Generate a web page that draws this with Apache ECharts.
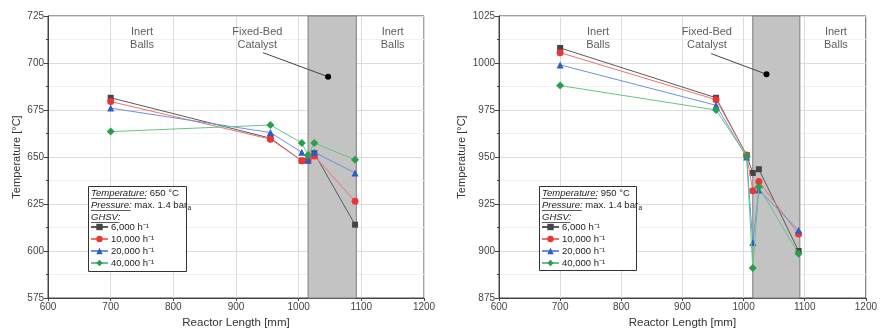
<!DOCTYPE html>
<html><head><meta charset="utf-8">
<script src="https://cdn.jsdelivr.net/npm/echarts@6/dist/echarts.min.js"></script>
<style>html,body{margin:0;padding:0;background:#fff}#c{width:880px;height:334px}</style>
</head><body><div id="c"></div>
<script>
// ---- data ----
const positions = [700, 955, 1005, 1015, 1025, 1090];
const seriesNames = ['6,000 h\u207B\u00B9', '10,000 h\u207B\u00B9', '20,000 h\u207B\u00B9', '40,000 h\u207B\u00B9'];
const left6000  = [681.5, 660, 648, 648, 652, 614];
const left10000 = [679.5, 659.5, 648, 648.5, 650.5, 626.5];
const left20000 = [676, 663, 652.5, 648.5, 652.5, 641.5];
const left40000 = [663.5, 667, 657.5, 651, 657.5, 648.5];
const right6000  = [1008, 981.5, 951, 941.5, 943.5, 900];
const right10000 = [1005.5, 980.5, 951, 932, 937, 909];
const right20000 = [999, 977.5, 950, 904.5, 932.5, 911];
const right40000 = [988, 975, 950.5, 891, 934, 898.5];
const xTicks = [600, 700, 800, 900, 1000, 1100, 1200];
const leftYTicks = [575, 600, 625, 650, 675, 700, 725];
const rightYTicks = [875, 900, 925, 950, 975, 1000, 1025];
const catalystBand = [1015, 1092];
const leftConditions = ['650 \u00B0C', 'max. 1.4 bar'];
const rightConditions = ['950 \u00B0C', 'max. 1.4 bar'];

// ---- styles ----
const styles = [
  {color: '#454545', line: '#5a5a5a', symbol: 'rect', size: 6},
  {color: '#ee3535', line: '#f07070', symbol: 'circle', size: 7},
  {color: '#2c5cc6', line: '#6c92dc', symbol: 'triangle', size: 7},
  {color: '#27a04c', line: '#66c488', symbol: 'diamond', size: 8}
];
const FONT = 'Liberation Sans, Arial, sans-serif';
const plain = v => String(v);

function mkAxes(gi, ymin, ymax) {
  const x = {
    type: 'value', gridIndex: gi, min: xTicks[0], max: xTicks[xTicks.length-1], interval: 100,
    name: 'Reactor Length [mm]', nameLocation: 'middle', nameGap: 19,
    nameTextStyle: {fontSize: 11.5, color: '#333', fontFamily: FONT},
    axisLine: {show: true, lineStyle: {color: '#444'}},
    axisTick: {show: true, length: 3, lineStyle: {color: '#444'}},
    axisLabel: {fontSize: 10, color: '#444', margin: 4, fontFamily: FONT, formatter: plain},
    splitLine: {show: true, lineStyle: {color: '#dcdcdc'}}
  };
  const y = {
    type: 'value', gridIndex: gi, min: ymin, max: ymax, interval: 25,
    name: 'Temperature [\u00B0C]', nameLocation: 'middle', nameGap: gi === 0 ? 26 : 32,
    nameTextStyle: {fontSize: 11, color: '#333', fontFamily: FONT},
    axisLine: {show: true, lineStyle: {color: '#444'}},
    axisTick: {show: true, length: 4, lineStyle: {color: '#444'}},
    minorTick: {show: true, splitNumber: 2, length: 2, lineStyle: {color: '#444'}},
    minorSplitLine: {show: true, lineStyle: {color: '#f1f1f1'}},
    axisLabel: {fontSize: 10, color: '#444', margin: 4, fontFamily: FONT, formatter: plain},
    splitLine: {show: true, lineStyle: {color: '#dcdcdc'}}
  };
  return {x, y};
}
const a0 = mkAxes(0, leftYTicks[0], leftYTicks[leftYTicks.length-1]);
const a1 = mkAxes(1, rightYTicks[0], rightYTicks[rightYTicks.length-1]);

function dataSeries(gi, arrs) {
  return arrs.map((vals, i) => ({
    type: 'line', name: seriesNames[i], xAxisIndex: gi, yAxisIndex: gi,
    data: positions.map((p, k) => [p, vals[k]]),
    symbol: styles[i].symbol, symbolSize: styles[i].size, showSymbol: true,
    itemStyle: {color: styles[i].color},
    lineStyle: {color: styles[i].line, width: 1},
    z: 5 + i, animation: false
  }));
}
function bandSeries(gi) {
  return {
    type: 'line', xAxisIndex: gi, yAxisIndex: gi, data: [], z: 1, silent: true,
    markArea: {silent: true, itemStyle: {color: '#c3c3c3', borderColor: '#7e7e7e', borderWidth: 1},
      data: [[{xAxis: catalystBand[0]}, {xAxis: catalystBand[1]}]]}
  };
}
function labelSeries(gi, pts) {
  return {
    type: 'scatter', xAxisIndex: gi, yAxisIndex: gi, symbolSize: 0, silent: true, z: 3,
    data: pts.map(p => ({value: [p[0], p[1]], name: p[2]})),
    label: {show: true, position: 'inside', formatter: p => p.name, fontSize: 11, lineHeight: 13,
      color: '#333', fontFamily: FONT}
  };
}
function pointerSeries(gi, from, to) {
  return {
    type: 'line', xAxisIndex: gi, yAxisIndex: gi, data: [from, to], z: 4, silent: true,
    symbol: 'circle', showSymbol: true,
    symbolSize: (v, p) => p.dataIndex === 1 ? 6 : 0,
    itemStyle: {color: '#000'}, lineStyle: {color: '#444', width: 1}
  };
}

function measure(txt, font) {
  const c = document.createElement('canvas').getContext('2d');
  c.font = font; return c.measureText(txt).width;
}
function legendBox(x0, y0, w, h, cond) {
  const els = [];
  els.push({type: 'rect', shape: {x: x0 + 0.5, y: y0 + 0.5, width: w, height: h},
    style: {fill: '#fff', stroke: '#333', lineWidth: 1}, z: 20});
  const fs = 9.5;
  const rows = [
    ['Temperature:', ' ' + cond[0], false],
    ['Pressure:', ' ' + cond[1], true],
    ['GHSV:', '', false]
  ];
  rows.forEach((r, i) => {
    const ty = y0 + 7 + i * 12;
    const wItal = measure(r[0], 'italic ' + fs + 'px ' + FONT);
    const wRest = measure(r[1], fs + 'px ' + FONT);
    els.push({type: 'text', x: x0 + 3, y: ty, z: 21,
      style: {text: r[0], font: 'italic ' + fs + 'px ' + FONT, fill: '#222', verticalAlign: 'middle'}});
    els.push({type: 'line', shape: {x1: x0 + 3, y1: ty + 5.5, x2: x0 + 3 + wItal - 1, y2: ty + 5.5}, z: 21,
      style: {stroke: '#333', lineWidth: 0.8}});
    if (r[1]) {
      els.push({type: 'text', x: x0 + 3 + wItal, y: ty, z: 21,
        style: {text: r[1], font: fs + 'px ' + FONT, fill: '#222', verticalAlign: 'middle'}});
    }
    if (r[2]) {
      els.push({type: 'text', x: x0 + 3 + wItal + wRest + 0.5, y: ty + 3, z: 21,
        style: {text: 'a', font: '6.5px ' + FONT, fill: '#222', verticalAlign: 'middle'}});
    }
  });
  return els;
}
function mkLegend(left) {
  return {
    data: seriesNames, orient: 'vertical', left: left, top: 221, itemWidth: 17, itemHeight: 8,
    itemGap: 0, selectedMode: false, z: 22,
    textStyle: {fontSize: 9.5, color: '#222', lineHeight: 12, fontFamily: FONT, padding: [0, 0, 0, -2]},
    padding: 0
  };
}

const option = {
  animation: false,
  textStyle: {fontFamily: FONT},
  grid: [
    {left: 48, right: 456, top: 16, bottom: 35, show: true, borderColor: '#444', borderWidth: 1},
    {left: 499, right: 11, top: 16, bottom: 36, show: true, borderColor: '#444', borderWidth: 1}
  ],
  xAxis: [a0.x, a1.x],
  yAxis: [a0.y, a1.y],
  legend: [mkLegend(90), mkLegend(541)],
  graphic: legendBox(88, 186, 98, 85, leftConditions).concat(legendBox(539, 186, 97, 84, rightConditions)),
  series: [
    bandSeries(0), bandSeries(1),
    labelSeries(0, [[750, 713, 'Inert\nBalls'], [934, 713, 'Fixed-Bed\nCatalyst'], [1150, 713, 'Inert\nBalls']]),
    labelSeries(1, [[762, 1013, 'Inert\nBalls'], [940, 1013, 'Fixed-Bed\nCatalyst'], [1151, 1013, 'Inert\nBalls']]),
    pointerSeries(0, [943, 705.5], [1047, 692.7]),
    pointerSeries(1, [947, 1005], [1037.5, 994])
  ].concat(dataSeries(0, [left6000, left10000, left20000, left40000]))
   .concat(dataSeries(1, [right6000, right10000, right20000, right40000]))
};
const chart = echarts.init(document.getElementById('c'), null, {renderer: 'canvas'});
chart.setOption(option);
</script></body></html>
